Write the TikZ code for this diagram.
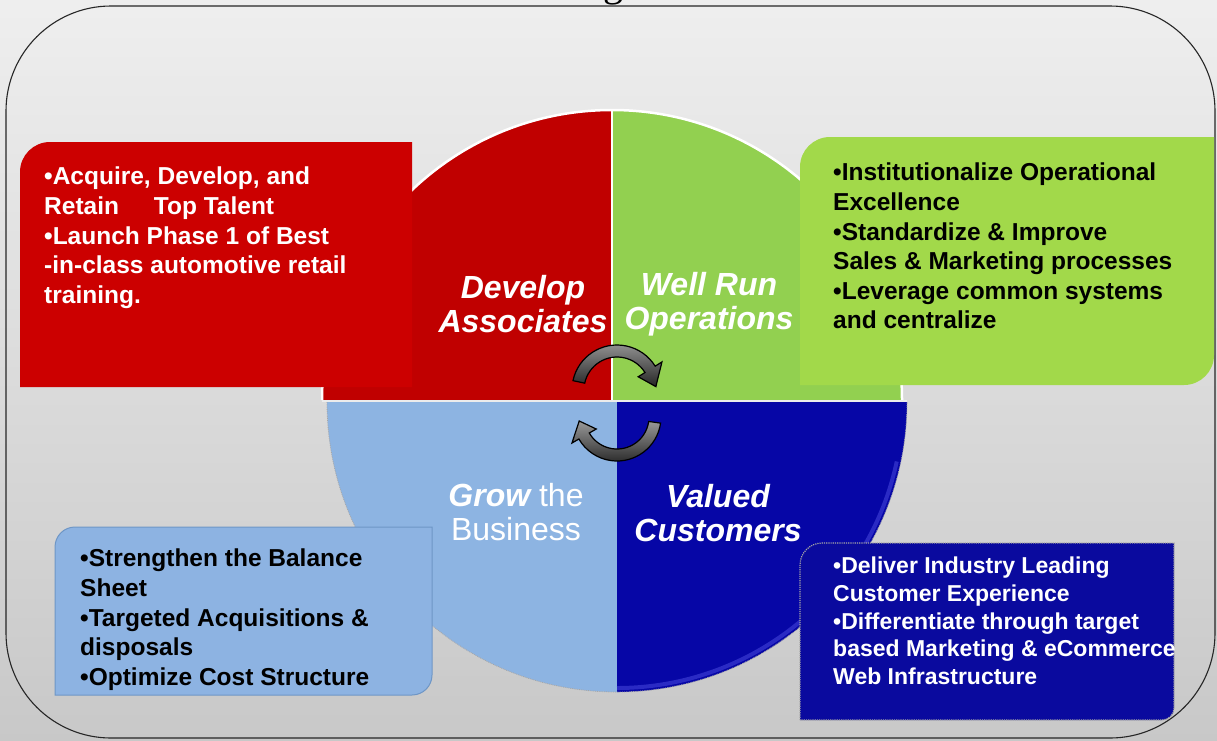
\documentclass[tikz,border=0pt]{standalone}
\usepackage{fontspec}
\setmainfont{Liberation Sans}
\newfontfamily\titlefont{Liberation Serif}
\usetikzlibrary{calc}

\definecolor{qred}{HTML}{C00000}
\definecolor{boxred}{HTML}{CC0000}
\definecolor{qgreen}{HTML}{92D050}
\definecolor{boxgreen}{HTML}{A2D94A}
\definecolor{qlight}{HTML}{8DB4E2}
\definecolor{boxlight}{HTML}{8DB3E2}
\definecolor{lightedge}{HTML}{6E96C6}
\definecolor{qblue}{HTML}{0606A6}
\definecolor{qbluerim}{HTML}{2A2AC4}
\definecolor{boxblue}{HTML}{0A0A9E}

\begin{document}
\begin{tikzpicture}[x=1pt,y=-1pt,
  bullets/.style={anchor=north west, inner sep=0pt, align=left,
    font=\fontsize{24.5}{29.6}\selectfont\bfseries},
  smallbullets/.style={bullets, font=\fontsize{23}{27.7}\selectfont\bfseries},
  pillar/.style={align=center, inner sep=0pt, text=white,
    font=\fontsize{32}{34}\selectfont\bfseries\itshape},
  spinner/.style={draw=black, line width=1.2pt, top color=black!40, bottom color=black!85},
  rim/.style={white, line width=2.5pt}
]
\useasboundingbox (0,0) rectangle (1217,740);

% slide background
\shade[top color=gray!13, bottom color=gray!43] (0,0) rectangle (1217,740);

% descender of the heading, cut by the page edge
\node[font=\titlefont\fontsize{40}{40}\selectfont, anchor=base, inner sep=0pt] (title) at (613,-4) {g};

% outer rounded frame
\draw[black!85, line width=1.1pt, rounded corners=105pt] (6,6) rectangle (1215,738);

% four quadrants of the wheel
\coordinate (cu) at (612,400);
\coordinate (cl) at (617,402);
\fill[qred]   (cu) -- (322,400) arc[start angle=180, end angle=270, radius=290] -- cycle;
\fill[qgreen] (cu) -- (612,110) arc[start angle=270, end angle=360, radius=290] -- cycle;
\fill[qlight] (cl) -- (327,402) arc[start angle=180, end angle=90, radius=290] -- cycle;
\fill[qblue]  (cl) -- (617,692) arc[start angle=90, end angle=0, radius=290] -- cycle;
\draw[qbluerim, line width=4pt] ($(cl)+(90:286)$) arc[start angle=90, end angle=12, radius=286];
\draw[black!35, line width=0.8pt, densely dotted] (327,402) arc[start angle=180, end angle=0, radius=290];
\draw[rim] (322,400) arc[start angle=180, end angle=360, radius=290];
\draw[white, line width=2pt] (612,110) -- (612,400);
\draw[white!85!gray, line width=1.2pt] (322,401) -- (907,401);

% circular arrows in the middle
\coordinate (su) at (617,390);
\coordinate (sl) at (617,417);
\filldraw[spinner] ($(su)+(192:45)$) arc[start angle=192, end angle=328, radius=45]
  -- ($(su)+(328:53)$) -- ($(su)+(355:39)$) -- ($(su)+(328:25)$)
  -- ($(su)+(328:33)$) arc[start angle=328, end angle=192, radius=33] -- cycle;
\filldraw[spinner] ($(sl)+(8:44)$) arc[start angle=8, end angle=150, radius=44]
  -- ($(sl)+(150:52)$) -- ($(sl)+(174:38)$) -- ($(sl)+(150:24)$)
  -- ($(sl)+(150:32)$) arc[start angle=150, end angle=8, radius=32] -- cycle;

% pillar titles
\node[pillar] (develop) at (523,304) {Develop\\Associates};
\node[pillar] (wellrun) at (709,304) {Well Run\\Operations};
\node[pillar, font=\fontsize{32}{34}\selectfont] (grow) at (516,512) {{\bfseries\itshape Grow} the\\Business};
\node[pillar] (valued) at (718,513) {Valued\\Customers};

% red box
\fill[boxred] (20,387) -- (20,172) arc[start angle=180, end angle=270, radius=30]
  -- (412,142) -- (412,387) -- cycle;
\node[bullets, text=white] (devtext) at (44,167)
  {•Acquire, Develop, and\\Retain\hspace{28pt} Top Talent\\•Launch Phase 1 of Best\\-in-class automotive retail\\training.};

% green box
\fill[boxgreen] (800,385) -- (800,167) arc[start angle=180, end angle=270, radius=30]
  -- (1214,137) -- (1214,355) arc[start angle=0, end angle=90, radius=30] -- cycle;
\node[bullets, text=black] (opstext) at (833,163)
  {•Institutionalize Operational\\Excellence\\•Standardize \& Improve\\Sales \& Marketing processes\\•Leverage common systems\\and centralize};

% light blue box
\filldraw[fill=boxlight, draw=lightedge, line width=1pt] (55,695) -- (55,547)
  arc[start angle=180, end angle=270, radius=20] -- (432,527) -- (432,675)
  arc[start angle=0, end angle=90, radius=20] -- cycle;
\node[bullets, text=black] (growtext) at (80,549)
  {•Strengthen the Balance\\Sheet\\•Targeted Acquisitions \&\\disposals\\•Optimize Cost Structure};

% dark blue box
\filldraw[fill=boxblue, draw=black!35, line width=1.2pt, densely dotted] (800,720) -- (800,565)
  arc[start angle=180, end angle=270, radius=22] -- (1174,543) -- (1174,708)
  arc[start angle=0, end angle=90, radius=12] -- cycle;
\node[smallbullets, text=white] (custtext) at (833,557)
  {•Deliver Industry Leading\\Customer Experience\\•Differentiate through target\\based Marketing \& eCommerce\\Web Infrastructure};
\end{tikzpicture}
\end{document}
